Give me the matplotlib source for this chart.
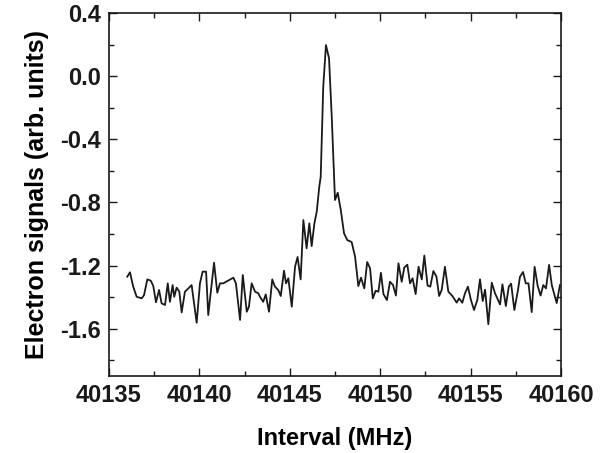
import matplotlib
matplotlib.use("Agg")
import matplotlib.pyplot as plt
from matplotlib.ticker import MultipleLocator

plt.rcParams['font.family'] = ['Liberation Sans', 'DejaVu Sans']
plt.rcParams['font.weight'] = 'bold'

interval_mhz = [
    40136.01, 40136.16, 40136.34, 40136.53, 40136.81, 40136.94, 40137.12, 40137.31,
    40137.45, 40137.60, 40137.77, 40137.91, 40138.10, 40138.25, 40138.37, 40138.52,
    40138.61, 40138.74, 40138.89, 40139.02, 40139.20, 40139.39, 40139.57, 40139.85,
    40140.03, 40140.18, 40140.37, 40140.49, 40140.81, 40140.99, 40141.14, 40141.32,
    40141.47, 40141.65, 40141.88, 40142.02, 40142.25, 40142.40, 40142.62, 40142.74,
    40142.89, 40143.08, 40143.26, 40143.35, 40143.53, 40143.67, 40143.85, 40144.03,
    40144.18, 40144.36, 40144.50, 40144.68, 40144.79, 40144.92, 40145.11, 40145.29,
    40145.43, 40145.60, 40145.75, 40145.93, 40146.08, 40146.21, 40146.36, 40146.49,
    40146.63, 40146.71, 40146.85, 40147.00, 40147.17, 40147.32, 40147.50, 40147.65,
    40147.82, 40148.00, 40148.18, 40148.42, 40148.61, 40148.79, 40148.94, 40149.12,
    40149.28, 40149.44, 40149.59, 40149.75, 40149.90, 40150.04, 40150.18, 40150.37,
    40150.54, 40150.71, 40150.87, 40151.01, 40151.19, 40151.33, 40151.50, 40151.65,
    40151.79, 40151.96, 40152.12, 40152.30, 40152.44, 40152.62, 40152.77, 40152.94,
    40153.11, 40153.26, 40153.40, 40153.58, 40153.77, 40153.99, 40154.23, 40154.36,
    40154.54, 40154.69, 40154.85, 40155.02, 40155.19, 40155.37, 40155.52, 40155.67,
    40155.80, 40155.98, 40156.17, 40156.35, 40156.63, 40156.76, 40156.95, 40157.11,
    40157.24, 40157.42, 40157.62, 40157.73, 40157.90, 40158.05, 40158.20, 40158.38,
    40158.54, 40158.71, 40158.87, 40159.02, 40159.17, 40159.34, 40159.49, 40159.76,
    40159.94,
]

electron_signal = [
    -1.271, -1.243, -1.334, -1.398, -1.408, -1.387, -1.288, -1.296,
    -1.330, -1.433, -1.355, -1.440, -1.450, -1.313, -1.430, -1.324,
    -1.398, -1.340, -1.366, -1.497, -1.366, -1.345, -1.324, -1.563,
    -1.313, -1.239, -1.239, -1.514, -1.182, -1.372, -1.313, -1.313,
    -1.303, -1.292, -1.277, -1.313, -1.545, -1.260, -1.493, -1.461,
    -1.313, -1.366, -1.376, -1.398, -1.430, -1.383, -1.493, -1.288,
    -1.334, -1.355, -1.393, -1.233, -1.313, -1.281, -1.461, -1.208,
    -1.146, -1.288, -0.912, -1.091, -0.933, -1.077, -0.933, -0.859,
    -0.701, -0.637, -0.067, 0.197, 0.113, -0.257, -0.785, -0.739,
    -0.848, -0.996, -1.039, -1.051, -1.144, -1.330, -1.277, -1.345,
    -1.178, -1.218, -1.408, -1.360, -1.366, -1.246, -1.381, -1.419,
    -1.303, -1.324, -1.390, -1.186, -1.303, -1.213, -1.195, -1.313,
    -1.281, -1.381, -1.208, -1.288, -1.137, -1.327, -1.334, -1.235,
    -1.270, -1.393, -1.355, -1.208, -1.366, -1.393, -1.435, -1.408,
    -1.436, -1.376, -1.334, -1.419, -1.482, -1.419, -1.287, -1.425,
    -1.353, -1.572, -1.309, -1.376, -1.447, -1.319, -1.457, -1.334,
    -1.315, -1.482, -1.355, -1.271, -1.241, -1.313, -1.313, -1.495,
    -1.208, -1.330, -1.390, -1.324, -1.345, -1.196, -1.324, -1.438,
    -1.324,
]

x_ticks = [40135, 40140, 40145, 40150, 40155, 40160]
y_ticks = [-1.6, -1.2, -0.8, -0.4, 0.0, 0.4]

fig = plt.figure(figsize=(6.14, 4.53), dpi=100)
ax = fig.add_axes([0.1775, 0.170, 0.7362, 0.8013])
ax.plot(interval_mhz, electron_signal, color='#1a1a1a', linewidth=1.3)

ax.set_xlim(40135, 40160)
ax.set_ylim(-1.9, 0.4)
ax.set_xticks(x_ticks)
ax.set_xticklabels([str(v) for v in x_ticks])
ax.set_yticks(y_ticks)
ax.set_yticklabels([f"{v:.1f}" for v in y_ticks])
ax.xaxis.set_minor_locator(MultipleLocator(2.5))
ax.yaxis.set_minor_locator(MultipleLocator(0.2))

ax.tick_params(which='both', direction='in', top=True, right=True, width=1.0, colors='#1a1a1a')
ax.tick_params(which='major', length=6, labelsize=17, pad=6)
ax.tick_params(which='minor', length=3.5)
for lbl in ax.get_xticklabels() + ax.get_yticklabels():
    lbl.set_fontweight('bold')
for s in ax.spines.values():
    s.set_linewidth(1.2)
    s.set_color('#1a1a1a')

ax.set_xlabel('Interval (MHz)', fontsize=17, fontweight='bold', labelpad=14)
ax.set_ylabel('Electron signals (arb. units)', fontsize=18, fontweight='bold', labelpad=8)

fig.savefig('out.png', dpi=100)
